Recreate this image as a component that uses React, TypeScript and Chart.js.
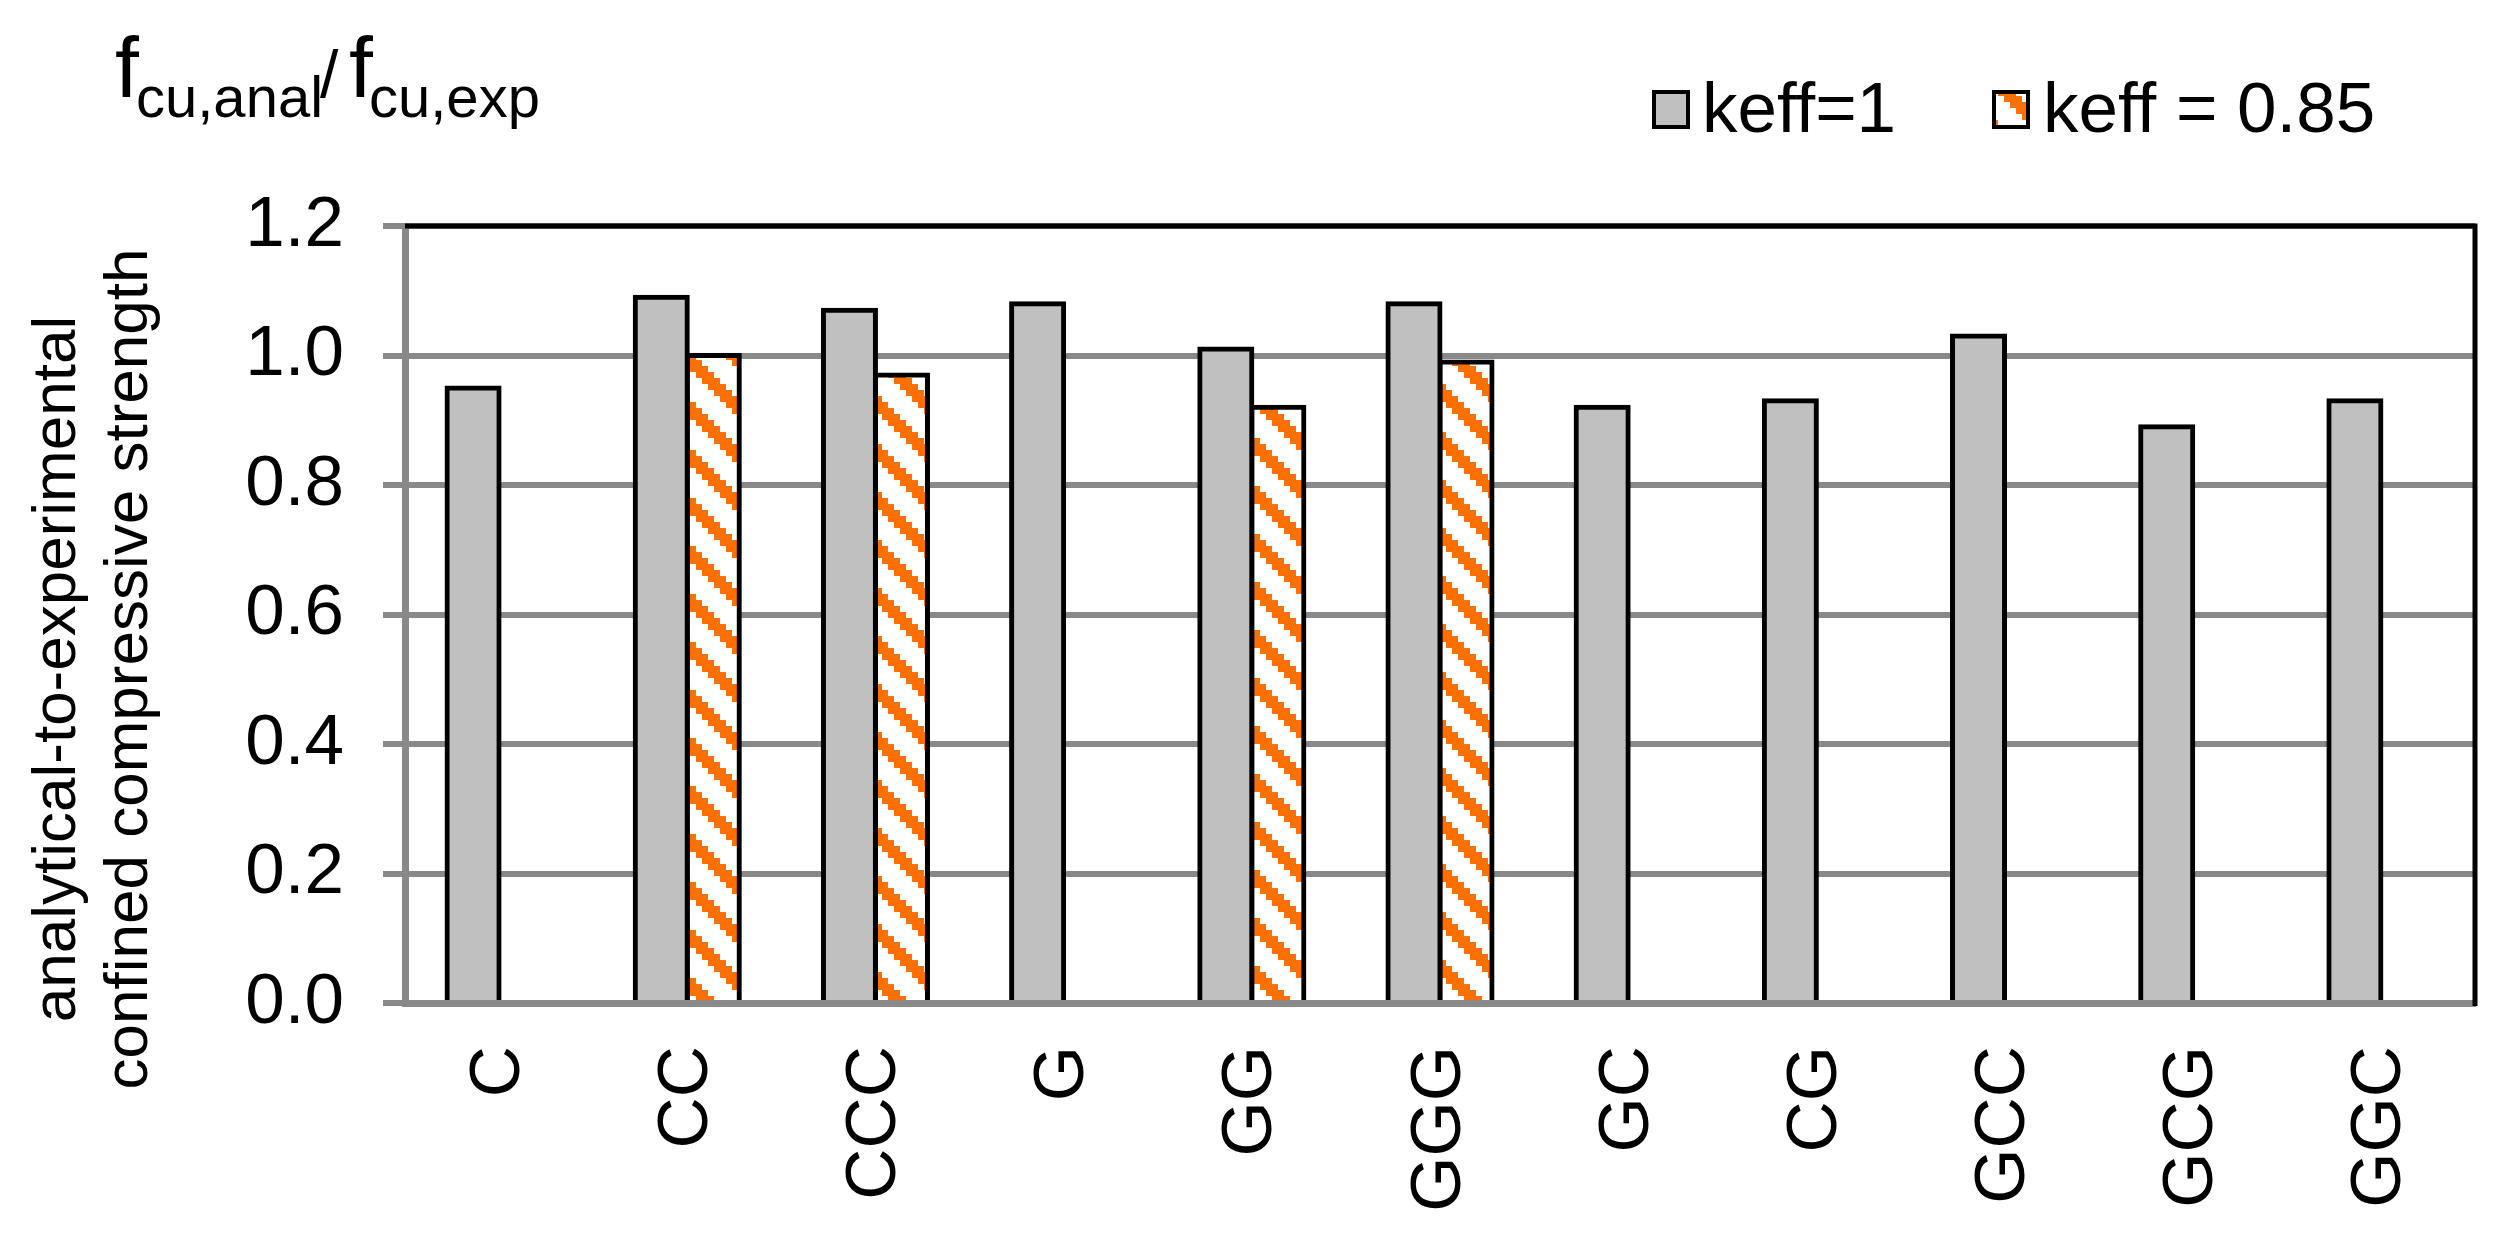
import React, { useEffect, useRef } from 'react';
import { Chart, registerables } from 'chart.js';

Chart.register(...registerables);

// ---------- data ----------
const categories = ['C', 'CC', 'CCC', 'G', 'GG', 'GGG', 'GC', 'CG', 'GCC', 'GCG', 'GGC'];
const keff1Values = [0.95, 1.09, 1.07, 1.08, 1.01, 1.08, 0.92, 0.93, 1.03, 0.89, 0.93];
const keff085Values = [null, 1.0, 0.97, null, 0.92, 0.99, null, null, null, null, null];
const seriesLabels = ['keff=1', 'keff = 0.85'];
const yAxisTitleLines = ['analytical-to-experimental', 'confined compressive strength'];
const titleMain = 'f';
const titleSubNum = 'cu,anal';
const titleSlash = '/';
const titleSubDen = 'cu,exp';
const Y_MIN = 0;
const Y_MAX = 1.2;
const Y_STEP = 0.2;

// ---------- style ----------
const W = 2493;
const H = 1259;
const FONT = '"Liberation Sans", Arial, Helvetica, sans-serif';
const GRAY_FILL = '#C0C0C0';
const ORANGE = '#FF7000';
const GRID = '#898989';

function makeHatch(): CanvasPattern | string {
  const cell = 6;
  const n = 8;
  const size = cell * n;
  const c = document.createElement('canvas');
  c.width = size;
  c.height = size;
  const ctx = c.getContext('2d');
  if (!ctx) return ORANGE;
  ctx.fillStyle = '#FFFFFF';
  ctx.fillRect(0, 0, size, size);
  ctx.fillStyle = ORANGE;
  for (let i = 0; i < n; i++) {
    for (let j = 0; j < n; j++) {
      if ((((j - i) % n) + n) % n < 3) ctx.fillRect(i * cell, j * cell, cell, cell);
    }
  }
  return ctx.createPattern(c, 'repeat') || ORANGE;
}

export default function App() {
  const ref = useRef<HTMLCanvasElement | null>(null);

  useEffect(() => {
    if (!ref.current) return;
    Chart.defaults.font.family = FONT;
    Chart.defaults.color = '#000000';
    const hatch = makeHatch();

    const decor = {
      id: 'decor',
      afterDraw(chart: any) {
        const { ctx, chartArea: a } = chart;
        ctx.save();
        // black frame top + right
        ctx.strokeStyle = '#000000';
        ctx.lineWidth = 5;
        ctx.beginPath();
        ctx.moveTo(a.left, a.top);
        ctx.lineTo(a.right, a.top);
        ctx.lineTo(a.right, a.bottom + 3);
        ctx.stroke();

        // y axis title (two rotated lines)
        ctx.fillStyle = '#000000';
        ctx.font = `62px ${FONT}`;
        ctx.textAlign = 'center';
        ctx.textBaseline = 'alphabetic';
        const xs = [75, 147];
        yAxisTitleLines.forEach((line, i) => {
          ctx.save();
          ctx.translate(xs[i], 669);
          ctx.rotate(-Math.PI / 2);
          ctx.fillText(line, 0, 0);
          ctx.restore();
        });

        // top-left title with subscripts
        ctx.textAlign = 'left';
        ctx.font = `86px ${FONT}`;
        ctx.fillText(titleMain, 115, 97);
        ctx.font = `58px ${FONT}`;
        ctx.fillText(titleSubNum, 136, 117);
        ctx.font = `66px ${FONT}`;
        ctx.fillText(titleSlash, 320, 97);
        ctx.font = `86px ${FONT}`;
        ctx.fillText(titleMain, 349, 97);
        ctx.font = `58px ${FONT}`;
        ctx.fillText(titleSubDen, 369, 117);

        // legend
        const boxes = [
          { x: 1652, tx: 1702, fill: GRAY_FILL as any },
          { x: 1992, tx: 2043, fill: hatch as any },
        ];
        boxes.forEach((b, i) => {
          ctx.fillStyle = b.fill;
          ctx.fillRect(b.x, 90, 38, 39);
          ctx.strokeStyle = '#000000';
          ctx.lineWidth = 4;
          ctx.strokeRect(b.x + 2, 92, 34, 35);
          ctx.fillStyle = '#000000';
          ctx.font = `71px ${FONT}`;
          ctx.fillText(seriesLabels[i], b.tx, 132);
        });
        ctx.restore();
      },
    };

    const chart = new Chart(ref.current, {
      type: 'bar',
      data: {
        labels: categories,
        datasets: [
          {
            label: seriesLabels[0],
            data: keff1Values,
            backgroundColor: GRAY_FILL,
            borderColor: '#000000',
            borderWidth: 5,
            inflateAmount: 2.5,
            categoryPercentage: 0.553,
            barPercentage: 1,
          } as any,
          {
            label: seriesLabels[1],
            data: keff085Values,
            backgroundColor: hatch as any,
            borderColor: '#000000',
            borderWidth: 5,
            inflateAmount: 2.5,
            categoryPercentage: 0.553,
            barPercentage: 1,
          } as any,
        ],
      },
      options: {
        responsive: false,
        animation: false,
        devicePixelRatio: 1,
        layout: { padding: { left: 0, right: 18, top: 226, bottom: 0 } },
        plugins: {
          legend: { display: false },
          tooltip: { enabled: false },
          title: { display: false },
        },
        scales: {
          x: {
            grid: { display: false, drawTicks: false },
            border: { display: true, color: GRID, width: 7, z: 1 },
            ticks: {
              font: { size: 71, family: FONT },
              color: '#000000',
              padding: 43,
              maxRotation: 90,
              minRotation: 90,
              autoSkip: false,
            },
            afterFit: (s: any) => {
              s.height = 256;
              s.paddingLeft = 0;
              s.paddingRight = 0;
            },
          },
          y: {
            min: Y_MIN,
            max: Y_MAX,
            grid: { color: GRID, lineWidth: 6, tickLength: 22, drawTicks: true },
            border: { display: true, color: GRID, width: 7, z: 1 },
            ticks: {
              stepSize: Y_STEP,
              font: { size: 71, family: FONT },
              color: '#000000',
              padding: 39,
              callback: (v: any) => Number(v).toFixed(1),
            },
            afterFit: (s: any) => {
              s.width = 405;
              s.paddingTop = 0;
              s.paddingBottom = 0;
            },
          },
        },
      } as any,
      plugins: [decor],
    });
    return () => chart.destroy();
  }, []);

  return (
    <div style={{ position: 'fixed', left: 0, top: 0, width: W, height: H, background: '#FFFFFF' }}>
      <canvas ref={ref} width={W} height={H} style={{ width: W, height: H, display: 'block' }} />
    </div>
  );
}
